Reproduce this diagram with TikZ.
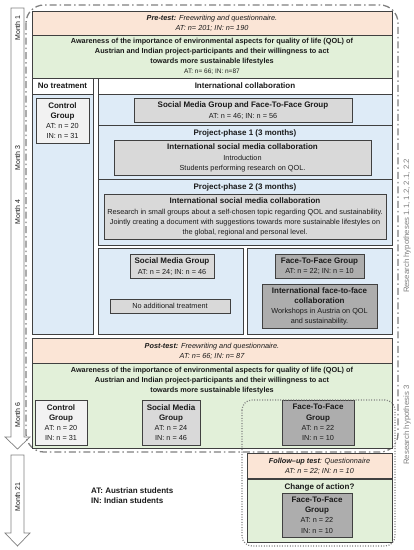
\documentclass[tikz,border=0pt]{standalone}
\usepackage{fontspec}
\setmainfont{Liberation Sans}
\definecolor{pinkf}{HTML}{FBE5D6}
\definecolor{greenf}{HTML}{E2F0D9}
\definecolor{bluef}{HTML}{DEEBF7}
\definecolor{grayA}{HTML}{D9D9D9}
\definecolor{grayB}{HTML}{ADADAD}
\definecolor{grayC}{HTML}{F2F2F2}
\definecolor{edge}{HTML}{404040}
\definecolor{hyp}{HTML}{808080}
\definecolor{txtc}{HTML}{1A1A1A}
\newcommand\bt{\fontsize{8}{10.2}\selectfont\bfseries}
\tikzset{
  outer/.style={draw=edge,line width=0.8pt},
  inbox/.style={draw=edge,line width=0.7pt},
  txt/.style={align=center,inner sep=0pt,text=txtc,font=\fontsize{7.3}{10.2}\selectfont},
  btxt/.style={txt,font=\bt},
  awtxt/.style={txt,font=\fontsize{7.3}{10}\selectfont\bfseries},
  ittxt/.style={txt,font=\fontsize{7.3}{10}\selectfont\itshape},
  month/.style={rotate=90,inner sep=0pt,text=txtc,font=\fontsize{7}{8}\selectfont},
  hyplabel/.style={rotate=90,inner sep=0pt,text=hyp,font=\fontsize{7.8}{9}\selectfont},
  marrow/.style={draw=hyp,fill=white,line width=0.7pt},
  dashdotbox/.style={draw=hyp,line width=1.3pt,rounded corners=18pt,dash pattern=on 7pt off 3pt on 1.5pt off 3pt},
  dotbox/.style={draw=hyp,line width=1.2pt,rounded corners=10pt,dash pattern=on 1pt off 1.6pt}
}
\begin{document}
\begin{tikzpicture}[x=1pt,y=-1pt]
\useasboundingbox (0,0) rectangle (414,550);
% month arrows
\draw[marrow] (11,8) -- (24,8) -- (24,437) -- (30,437) -- (17.5,449) -- (5,437) -- (11,437) -- cycle;
\draw[marrow] (11,455) -- (24,455) -- (24,533) -- (30,533) -- (17.5,546) -- (5,533) -- (11,533) -- cycle;
\node[month] (m1) at (17.5,28) {Month 1};
\node[month] (m3) at (17.5,158) {Month 3};
\node[month] (m4) at (17.5,212) {Month 4};
\node[month] (m6) at (17.5,415) {Month 6};
\node[month] (m21) at (17.5,497) {Month 21};
% hypothesis frame 1
\draw[dashdotbox] (26,5) rectangle (398,452);
% pre-test
\draw[outer,fill=pinkf] (32,11) rectangle (392,35);
\node[ittxt] (pre) at (212,23) {\textbf{Pre-test:} Freewriting and questionnaire.\\AT: n= 201; IN: n= 190};
\draw[outer,fill=greenf] (32,35) rectangle (392,78);
\node[awtxt] (aw1) at (212,52) {Awareness of the importance of environmental aspects for quality of life (QOL) of\\Austrian and Indian project-participants and their willingness to act\\towards more sustainable lifestyles};
\node[txt,font=\fontsize{6.5}{8}\selectfont] (aw1n) at (212,72) {AT: n= 66; IN: n=87};
% left column
\draw[outer,fill=white] (32,78) rectangle (93,94);
\node[btxt] (nt) at (62.5,86) {No treatment};
\draw[outer,fill=bluef] (32,94) rectangle (93,334);
\draw[inbox,fill=grayC] (36,98) rectangle (89,143);
\node[txt] (cg1) at (62.5,120.5) {\bt Control\\\bt Group\\AT: n = 20\\IN: n = 31};
% right column
\draw[outer,fill=white] (98,78) rectangle (392,94);
\node[btxt] (ic) at (245,86) {International collaboration};
\draw[outer,fill=bluef] (98,94) rectangle (392,125);
\draw[inbox,fill=grayA] (134,98) rectangle (352,122);
\node[txt] (smf) at (243,110.5) {\bt Social Media Group and Face-To-Face Group\\AT: n = 46; IN: n = 56};
\draw[outer,fill=bluef] (98,125) rectangle (392,179);
\node[btxt] (p1t) at (245,133) {Project-phase 1 (3 months)};
\draw[inbox,fill=grayA] (114,140) rectangle (371,175);
\node[txt] (p1) at (242.5,158) {\bt International social media collaboration\\Introduction\\Students performing research on QOL.};
\draw[outer,fill=bluef] (98,179) rectangle (392,245);
\node[btxt] (p2t) at (245,187) {Project-phase 2 (3 months)};
\draw[inbox,fill=grayA] (104,194) rectangle (386,239);
\node[txt] (p2) at (245,217) {\bt International social media collaboration\\Research in small groups about a self-chosen topic regarding QOL and sustainability.\\Jointly creating a document with suggestions towards more sustainable lifestyles on\\the global, regional and personal level.};
% split
\draw[outer,fill=bluef] (98,248) rectangle (243,334);
\draw[inbox,fill=grayA] (130,254) rectangle (214,278);
\node[txt] (sm1) at (172,266.5) {\bt Social Media Group\\AT: n = 24; IN: n = 46};
\draw[inbox,fill=grayA] (110,299) rectangle (230,313);
\node[txt] (nat) at (170,306) {No additional treatment};
\draw[outer,fill=bluef] (247,248) rectangle (392,334);
\draw[inbox,fill=grayB] (275,254) rectangle (364,278);
\node[txt] (ff1) at (319.5,266.5) {\bt Face-To-Face Group\\AT: n = 22; IN: n = 10};
\draw[inbox,fill=grayB] (262,284) rectangle (377,328);
\node[txt] (iff) at (319.5,306.5) {\bt International face-to-face\\\bt collaboration\\Workshops in Austria on QOL\\and sustainability.};
% post-test
\draw[outer,fill=pinkf] (32,338) rectangle (392,363);
\node[ittxt] (post) at (212,351) {\textbf{Post-test:} Freewriting and questionnaire.\\AT: n= 66; IN: n= 87};
\draw[outer,fill=greenf] (32,363) rectangle (392,448);
\node[awtxt] (aw2) at (212,381) {Awareness of the importance of environmental aspects for quality of life (QOL) of\\Austrian and Indian project-participants and their willingness to act\\towards more sustainable lifestyles};
\draw[inbox,fill=grayC] (35,400) rectangle (87,445);
\node[txt] (cg2) at (61,422.5) {\bt Control\\\bt Group\\AT: n = 20\\IN: n = 31};
\draw[inbox,fill=grayA] (142,400) rectangle (200,445);
\node[txt] (sm2) at (171,422.5) {\bt Social Media\\\bt Group\\AT: n = 24\\IN: n = 46};
\draw[inbox,fill=grayB] (282,400) rectangle (354,445);
\node[txt] (ff2) at (318,422.5) {\bt Face-To-Face\\\bt Group\\AT: n = 22\\IN: n = 10};
% follow-up
\draw[outer,fill=pinkf] (247,453) rectangle (392,479);
\node[ittxt] (fu) at (319.5,466) {\textbf{Follow–up test}: Questionnaire\\AT: n = 22; IN: n = 10};
\draw[outer,fill=greenf] (247,479) rectangle (392,542);
\draw[edge,line width=1.2pt] (247,479) -- (392,479);
\node[btxt] (coa) at (319.5,487) {Change of action?};
\draw[inbox,fill=grayB] (282,493) rectangle (352,537);
\node[txt] (ff3) at (317,515) {\bt Face-To-Face\\\bt Group\\AT: n = 22\\IN: n = 10};
% hypothesis 3 frame
\draw[dotbox] (242,400) rectangle (395,546);
% labels
\node[hyplabel] (h1) at (407,226) {Research hypotheses 1.1, 1.2, 2.1, 2.2};
\node[hyplabel] (h3) at (407,425) {Research hypothesis 3};
\node[btxt,align=left,anchor=west] (leg) at (91,495.5) {AT: Austrian students\\IN: Indian students};
\end{tikzpicture}
\end{document}
